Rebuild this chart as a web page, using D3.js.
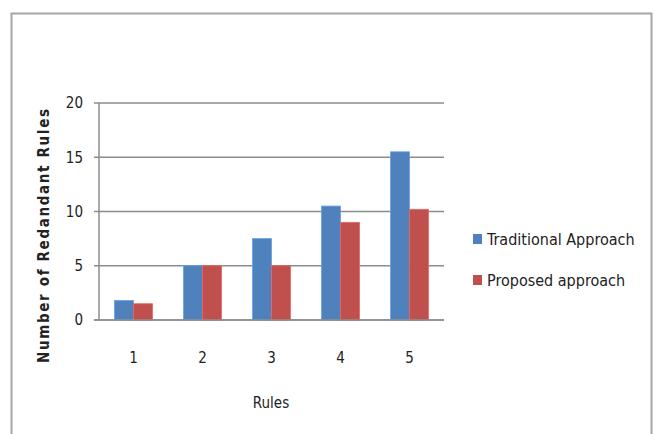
<!DOCTYPE html>
<html>
<head>
<meta charset="utf-8">
<script src="https://cdn.jsdelivr.net/npm/d3@7/dist/d3.min.js"></script>
<style>
  html, body { margin: 0; padding: 0; background: #fff; }
  svg { display: block; }
  text { font-family: "Liberation Sans Narrow", "DejaVu Sans Condensed", "Open Sans", sans-serif; fill: #222; }
</style>
</head>
<body>
<svg id="chart" width="654" height="434"></svg>
<script>
// Redundant rules found per rule set, by approach
const rules = ["1", "2", "3", "4", "5"];
const traditional = [1.8, 5, 7.5, 10.5, 15.5];
const proposed = [1.5, 5, 5, 9, 10.2];
const seriesNames = ["Traditional Approach", "Proposed approach"];
const seriesColors = ["#4F81BD", "#C0504D"];
const yTicks = [0, 5, 10, 15, 20];

const svg = d3.select("#chart");

// chart frame
svg.append("rect")
  .attr("x", 11.5).attr("y", 13.5)
  .attr("width", 640).attr("height", 440)
  .attr("fill", "#fff")
  .attr("stroke", "#a6a6a6").attr("stroke-width", 2);

const plot = { left: 99, right: 444, top: 103, bottom: 320 };

const x = d3.scaleBand().domain(rules).range([plot.left, plot.right]).paddingInner(0).paddingOuter(0);
const xInner = d3.scaleBand().domain(seriesNames).range([0, x.bandwidth()]).paddingInner(0).paddingOuter(0.82);
const y = d3.scaleLinear().domain([0, 20]).range([plot.bottom, plot.top]);

// horizontal gridlines with tick stubs
const grid = svg.append("g");
grid.selectAll("line").data(yTicks).join("line")
  .attr("x1", plot.left - 5).attr("x2", plot.right)
  .attr("y1", d => y(d)).attr("y2", d => y(d))
  .attr("stroke", "#8c8c8c").attr("stroke-width", 1.5);

// y axis line
svg.append("line")
  .attr("x1", plot.left).attr("x2", plot.left)
  .attr("y1", plot.top).attr("y2", plot.bottom)
  .attr("stroke", "#8c8c8c").attr("stroke-width", 1.5);

// y tick labels
svg.append("g").selectAll("text").data(yTicks).join("text")
  .attr("x", 83).attr("y", d => y(d))
  .attr("dy", "0.35em")
  .attr("text-anchor", "end")
  .attr("font-size", 15)
  .text(d => d);

// bars
const rows = rules.map((r, i) => ({ rule: r, values: [traditional[i], proposed[i]] }));
const groups = svg.append("g").selectAll("g").data(rows).join("g")
  .attr("transform", d => `translate(${x(d.rule)},0)`);
groups.selectAll("rect").data(d => d.values.map((v, j) => ({ v, name: seriesNames[j], color: seriesColors[j] })))
  .join("rect")
  .attr("x", d => xInner(d.name))
  .attr("width", xInner.bandwidth())
  .attr("y", d => y(d.v))
  .attr("height", d => y(0) - y(d.v))
  .attr("fill", d => d.color)
  .attr("stroke", d => d3.color(d.color).brighter(0.6))
  .attr("stroke-width", 0.8);

// redraw baseline on top of bars
svg.append("line")
  .attr("x1", plot.left - 5).attr("x2", plot.right)
  .attr("y1", y(0)).attr("y2", y(0))
  .attr("stroke", "#8c8c8c").attr("stroke-width", 1.5);

// x tick labels
svg.append("g").selectAll("text").data(rules).join("text")
  .attr("x", d => x(d) + x.bandwidth() / 2)
  .attr("y", 358)
  .attr("dy", "0.35em")
  .attr("text-anchor", "middle")
  .attr("font-size", 15)
  .text(d => d);

// axis titles
svg.append("text")
  .attr("x", 271).attr("y", 403)
  .attr("dy", "0.35em")
  .attr("text-anchor", "middle")
  .attr("font-size", 15)
  .text("Rules");

svg.append("text")
  .attr("transform", "translate(44,236) rotate(-90)")
  .attr("dy", "0.35em")
  .attr("text-anchor", "middle")
  .attr("font-size", 15)
  .attr("font-weight", "bold")
  .attr("textLength", 254)
  .attr("lengthAdjust", "spacing")
  .text("Number of Redandant Rules");

// legend
const legend = svg.append("g").selectAll("g").data(seriesNames).join("g")
  .attr("transform", (d, i) => `translate(473,${239 + i * 41})`);
legend.append("rect")
  .attr("x", 0).attr("y", -5).attr("width", 9).attr("height", 10)
  .attr("fill", (d, i) => seriesColors[i]);
legend.append("text")
  .attr("x", 14).attr("y", 0)
  .attr("dy", "0.35em")
  .attr("font-size", 16)
  .text(d => d);
</script>
</body>
</html>
